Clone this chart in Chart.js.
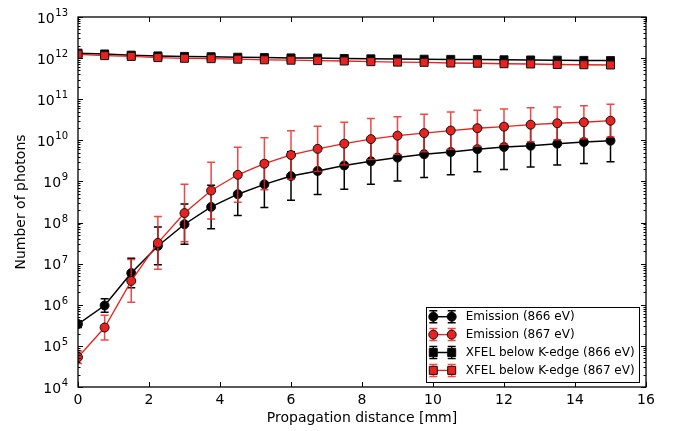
<!DOCTYPE html>
<html>
<head>
<meta charset="utf-8">
<script src="https://cdn.jsdelivr.net/npm/chart.js@4"></script>
<style>
body { margin: 0; background: #fff; }
</style>
</head>
<body>
<canvas id="photonChart" width="679" height="431"></canvas>
<script>
// propagation distance [mm]
var xDistance = [0, 0.75, 1.5, 2.25, 3, 3.75, 4.5, 5.25, 6, 6.75, 7.5, 8.25, 9, 9.75, 10.5, 11.25, 12, 12.75, 13.5, 14.25, 15];

// Emission (866 eV) with error bar bounds
var emission866 = [3.4e5, 9.6e5, 5.9e6, 2.7e7, 9.1e7, 2.4e8, 4.9e8, 8.5e8, 1.35e9, 1.8e9, 2.45e9, 3.1e9, 3.8e9, 4.6e9, 5.2e9, 6.1e9, 6.9e9, 7.4e9, 8.3e9, 9.1e9, 9.8e9];
var emission866Low = [2.8e5, 6.6e5, 2.6e6, 9.4e6, 2.95e7, 7.1e7, 1.48e8, 2.34e8, 3.47e8, 4.84e8, 6.45e8, 8.5e8, 1.02e9, 1.24e9, 1.46e9, 1.72e9, 1.94e9, 2.24e9, 2.5e9, 2.75e9, 3.0e9];
var emission866High = [4.1e5, 1.4e6, 1.35e7, 7.8e7, 2.81e8, 8.1e8, 1.62e9, 3.09e9, 5.25e9, 6.7e9, 9.3e9, 1.13e10, 1.41e10, 1.71e10, 1.85e10, 2.17e10, 2.45e10, 2.45e10, 2.75e10, 3.0e10, 3.2e10];

// Emission (867 eV) with error bar bounds
var emission867 = [5.3e4, 2.8e5, 3.8e6, 3.2e7, 1.7e8, 6.0e8, 1.45e9, 2.7e9, 4.4e9, 6.2e9, 8.3e9, 1.07e10, 1.3e10, 1.5e10, 1.73e10, 1.97e10, 2.15e10, 2.4e10, 2.6e10, 2.75e10, 3.0e10];
var emission867Low = [3.75e4, 1.4e5, 1.15e6, 7.3e6, 3.4e7, 1.22e8, 3.1e8, 6.3e8, 1.13e9, 1.75e9, 2.5e9, 3.4e9, 4.5e9, 5.3e9, 6.1e9, 7.2e9, 8.0e9, 9.3e9, 1.04e10, 1.1e10, 1.2e10];
var emission867High = [7.5e4, 5.6e5, 1.26e7, 1.4e8, 8.5e8, 2.94e9, 6.8e9, 1.15e10, 1.71e10, 2.2e10, 2.75e10, 3.4e10, 3.75e10, 4.3e10, 4.9e10, 5.4e10, 5.8e10, 6.2e10, 6.5e10, 6.9e10, 7.5e10];

// XFEL below K-edge
var xfel866 = [1.32e12, 1.26e12, 1.18e12, 1.13e12, 1.1e12, 1.08e12, 1.05e12, 1.03e12, 1.01e12, 1.0e12, 9.8e11, 9.6e11, 9.5e11, 9.4e11, 9.3e11, 9.2e11, 9.1e11, 9.0e11, 8.9e11, 8.8e11, 8.7e11];
var xfel867 = [1.24e12, 1.15e12, 1.1e12, 1.03e12, 9.9e11, 9.7e11, 9.4e11, 9.1e11, 8.9e11, 8.7e11, 8.5e11, 8.2e11, 8.0e11, 7.9e11, 7.6e11, 7.5e11, 7.3e11, 7.2e11, 7.0e11, 6.9e11, 6.8e11];

var seriesLabels = ["Emission (866 eV)", "Emission (867 eV)", "XFEL below K-edge (866 eV)", "XFEL below K-edge (867 eV)"];
var yTickExponents = [4, 5, 6, 7, 8, 9, 10, 11, 12, 13];

var RED = "#e8221e";
var FONT = "DejaVu Sans";

function toPoints(values) {
    return xDistance.map(function (x, i) { return { x: x, y: values[i] }; });
}

// error bars, drawn just under each dataset's line and markers
var errorBars = {
    id: "errorBars",
    beforeDatasetDraw: function (chart, args) {
        var ds = chart.data.datasets[args.index];
        if (!ds.errLow) return;
        var xs = chart.scales.x, ys = chart.scales.y, ctx = chart.ctx, a = chart.chartArea;
        ctx.save();
        ctx.beginPath();
        ctx.rect(a.left, a.top, a.right - a.left, a.bottom - a.top);
        ctx.clip();
        ctx.strokeStyle = ds.errColor;
        ctx.lineWidth = 1.5;
        ds.data.forEach(function (p, i) {
            var px = xs.getPixelForValue(p.x);
            var lo = ys.getPixelForValue(ds.errLow[i]);
            var hi = ys.getPixelForValue(ds.errHigh[i]);
            ctx.beginPath();
            ctx.moveTo(px, lo); ctx.lineTo(px, hi);
            ctx.moveTo(px - 4, lo); ctx.lineTo(px + 4, lo);
            ctx.moveTo(px - 4, hi); ctx.lineTo(px + 4, hi);
            ctx.stroke();
        });
        ctx.restore();
    }
};

function drawMarker(ctx, style, x, y, fill) {
    ctx.fillStyle = fill;
    ctx.strokeStyle = "#111";
    ctx.lineWidth = 1;
    ctx.beginPath();
    if (style === "rect") ctx.rect(x - 4, y - 4, 8, 8);
    else ctx.arc(x, y, 4.5, 0, Math.PI * 2);
    ctx.fill();
    ctx.stroke();
}

// frame, inward ticks, y labels with exponents, legend
var frameAndLegend = {
    id: "frameAndLegend",
    afterDraw: function (chart) {
        var ctx = chart.ctx, a = chart.chartArea, xs = chart.scales.x, ys = chart.scales.y;
        ctx.save();
        ctx.strokeStyle = "#000";
        ctx.lineWidth = 1.3;
        ctx.strokeRect(a.left, a.top, a.right - a.left, a.bottom - a.top);

        ctx.lineWidth = 1;
        ctx.beginPath();
        xs.ticks.forEach(function (t) {
            var px = Math.round(xs.getPixelForValue(t.value)) + 0.5;
            ctx.moveTo(px, a.bottom); ctx.lineTo(px, a.bottom - 5);
            ctx.moveTo(px, a.top); ctx.lineTo(px, a.top + 5);
        });
        yTickExponents.forEach(function (e) {
            for (var k = 1; k <= 9; k++) {
                if (e === 13 && k > 1) break;
                var py = Math.round(ys.getPixelForValue(k * Math.pow(10, e))) + 0.5;
                var len = k === 1 ? 5 : 2.5;
                ctx.moveTo(a.left, py); ctx.lineTo(a.left + len, py);
                ctx.moveTo(a.right, py); ctx.lineTo(a.right - len, py);
            }
        });
        ctx.stroke();

        // y tick labels as 10 with superscript
        ctx.fillStyle = "#000";
        ctx.textAlign = "right";
        ctx.textBaseline = "alphabetic";
        yTickExponents.forEach(function (e) {
            var py = ys.getPixelForValue(Math.pow(10, e));
            var right = a.left - 10;
            ctx.font = "10px " + FONT;
            var expText = String(e);
            var w = ctx.measureText(expText).width;
            ctx.fillText(expText, right, py - 1);
            ctx.font = "14px " + FONT;
            ctx.fillText("10", right - w - 0.5, py + 5.5);
        });

        // legend
        var lx = 426, ly = 307, lw = 213, lh = 75;
        ctx.fillStyle = "#fff";
        ctx.fillRect(lx, ly, lw, lh);
        ctx.strokeStyle = "#000";
        ctx.lineWidth = 1;
        ctx.strokeRect(lx + 0.5, ly + 0.5, lw, lh);
        chart.data.datasets.forEach(function (ds, i) {
            var cy = ly + 9.7 + i * 17.9;
            var x1 = 433.3, x2 = 451.7;
            ctx.strokeStyle = ds.errColor || ds.borderColor;
            ctx.lineWidth = 1.5;
            ctx.beginPath();
            [x1, x2].forEach(function (mx) {
                ctx.moveTo(mx, cy - 6); ctx.lineTo(mx, cy + 6);
                ctx.moveTo(mx - 4, cy - 6); ctx.lineTo(mx + 4, cy - 6);
                ctx.moveTo(mx - 4, cy + 6); ctx.lineTo(mx + 4, cy + 6);
            });
            ctx.stroke();
            ctx.strokeStyle = ds.borderColor;
            ctx.lineWidth = ds.borderWidth;
            ctx.beginPath();
            ctx.moveTo(x1, cy); ctx.lineTo(x2, cy);
            ctx.stroke();
            drawMarker(ctx, ds.pointStyle, x1, cy, ds.pointBackgroundColor);
            drawMarker(ctx, ds.pointStyle, x2, cy, ds.pointBackgroundColor);
            ctx.fillStyle = "#000";
            ctx.font = "12px " + FONT;
            ctx.textAlign = "left";
            ctx.textBaseline = "middle";
            ctx.fillText(ds.label, 465.7, cy + 0.5);
        });
        ctx.restore();
    }
};

function series(label, values, color, style, order, low, high, errColor) {
    return {
        label: label,
        data: toPoints(values),
        errLow: low,
        errHigh: high,
        errColor: errColor,
        showLine: true,
        borderColor: color,
        backgroundColor: color,
        borderWidth: color === RED ? 1.3 : 1.5,
        pointStyle: style,
        pointRadius: style === "rect" ? 5.66 : 4.5,
        pointBackgroundColor: color,
        pointBorderColor: "#111",
        pointBorderWidth: 1,
        order: order,
        clip: 0
    };
}

new Chart("photonChart", {
    type: "scatter",
    data: {
        datasets: [
            series(seriesLabels[0], emission866, "#000", "circle", 4, emission866Low, emission866High, "#000"),
            series(seriesLabels[1], emission867, RED, "circle", 3, emission867Low, emission867High, "rgba(238,40,36,0.85)"),
            series(seriesLabels[2], xfel866, "#000", "rect", 2, null, null, "#000"),
            series(seriesLabels[3], xfel867, RED, "rect", 1, null, null, "rgba(238,40,36,0.85)")
        ]
    },
    options: {
        responsive: false,
        animation: false,
        layout: { padding: { left: 0, right: 33, top: 17, bottom: 0 } },
        plugins: {
            legend: { display: false },
            tooltip: { enabled: false }
        },
        scales: {
            x: {
                type: "linear",
                min: 0,
                max: 16,
                afterFit: function (s) { s.height = 44; },
                grid: { display: false, drawTicks: false },
                border: { display: false },
                ticks: { stepSize: 2, color: "#000", padding: 5, maxRotation: 0, font: { family: FONT, size: 14 } },
                title: { display: true, text: "Propagation distance [mm]", color: "#000", font: { family: FONT, size: 14 }, padding: { top: 0, bottom: 4 } }
            },
            y: {
                type: "logarithmic",
                min: 1e4,
                max: 1e13,
                afterFit: function (s) { s.width = 78; },
                grid: { display: false, drawTicks: false },
                border: { display: false },
                ticks: { display: false },
                title: { display: true, text: "Number of photons", color: "#000", font: { family: FONT, size: 14 }, padding: { top: 13, bottom: 0 } }
            }
        }
    },
    plugins: [errorBars, frameAndLegend]
});
</script>
</body>
</html>
